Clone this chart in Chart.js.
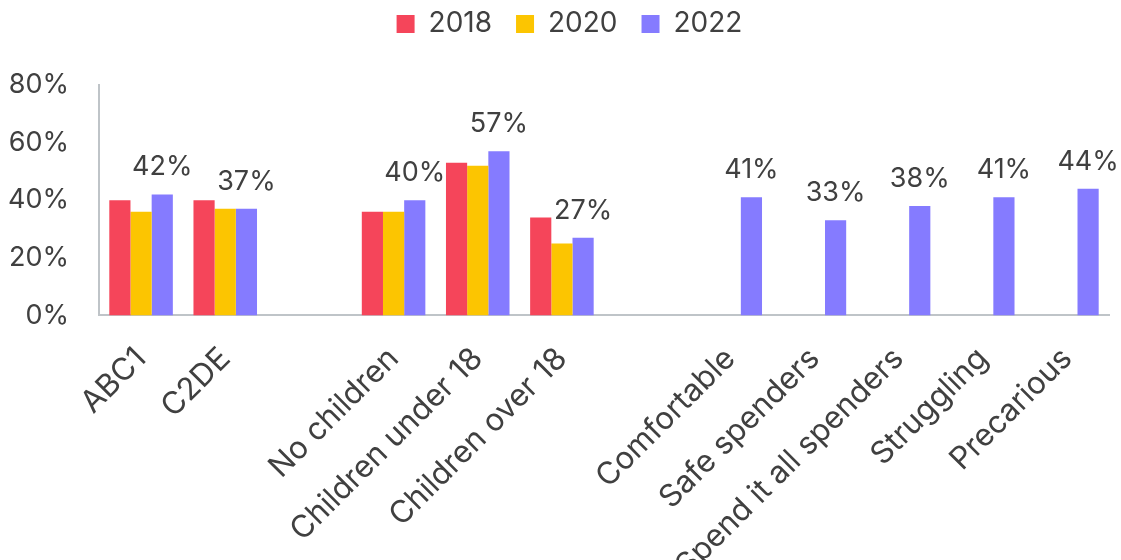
<!DOCTYPE html>
<html>
<head>
<meta charset="utf-8">
<script src="https://cdn.jsdelivr.net/npm/chart.js@4.4.1/dist/chart.umd.min.js"></script>
<style>
  html, body { margin: 0; padding: 0; background: #fff; overflow: hidden; }
  #wrap { width: 1121px; height: 609px; position: relative; }
</style>
</head>
<body>
<div id="wrap"><canvas id="myChart"></canvas></div>
<script>
// empty strings leave a gap between the groups
const categories = ['ABC1', 'C2DE', '', 'No children', 'Children under 18', 'Children over 18', '',
    'Comfortable', 'Safe spenders', 'Spend it all spenders', 'Struggling', 'Precarious'];
const years = ['2018', '2020', '2022'];
const values2018 = [40, 40, null, 36, 53, 34, null, null, null, null, null, null];
const values2020 = [36, 37, null, 36, 52, 25, null, null, null, null, null, null];
const values2022 = [42, 37, null, 40, 57, 27, null, 41, 33, 38, 41, 44];
const yTicks = [0, 20, 40, 60, 80];

const colors = ['#f5455a', '#fcc501', '#857bff'];
const textColor = '#404040';
const fontFamily = 'Inter, "Open Sans", sans-serif';

// percentage labels over the 2022 bars only
const valueLabels = {
    id: 'valueLabels',
    afterDatasetsDraw(chart) {
        const ctx = chart.ctx;
        const meta = chart.getDatasetMeta(2);
        ctx.save();
        ctx.font = '27px ' + fontFamily;
        ctx.fillStyle = textColor;
        ctx.textAlign = 'center';
        ctx.textBaseline = 'alphabetic';
        meta.data.forEach((bar, i) => {
            const v = values2022[i];
            if (v == null) return;
            ctx.fillText(v + '%', bar.x, bar.y - 19);
        });
        ctx.restore();
    }
};

// extra room under the legend, and the legend nudged a little to the right
const legendTweak = {
    id: 'legendTweak',
    beforeInit(chart) {
        const legend = chart.legend;
        const fit = legend.fit;
        const draw = legend.draw;
        legend.fit = function () {
            fit.call(this);
            this.height += 37;
        };
        legend.draw = function () {
            this.ctx.save();
            this.ctx.translate(11, 0);
            draw.call(this);
            this.ctx.restore();
        };
    }
};

const ctx = document.getElementById('myChart').getContext('2d');
new Chart(ctx, {
    type: 'bar',
    data: {
        labels: categories,
        datasets: [values2018, values2020, values2022].map((d, i) => ({
            label: years[i],
            data: d,
            backgroundColor: colors[i],
            categoryPercentage: 0.755,
            barPercentage: 1.0
        }))
    },
    options: {
        responsive: true,
        maintainAspectRatio: false,
        animation: false,
        layout: { padding: { left: 8, right: 12, top: -14, bottom: 0 } },
        plugins: {
            tooltip: { enabled: false },
            legend: {
                position: 'top',
                labels: {
                    boxWidth: 18,
                    boxHeight: 18,
                    padding: 24,
                    color: textColor,
                    font: { family: fontFamily, size: 28 }
                }
            }
        },
        scales: {
            x: {
                grid: { display: false, drawTicks: false },
                border: { color: '#bfc4c8', width: 2 },
                afterFit: s => { s.paddingLeft = 0; s.paddingRight = 0; },
                ticks: {
                    autoSkip: false,
                    maxRotation: 45,
                    minRotation: 45,
                    padding: 25,
                    color: textColor,
                    font: { family: fontFamily, size: 31 }
                }
            },
            y: {
                min: 0,
                max: 80,
                afterBuildTicks: axis => { axis.ticks = yTicks.map(v => ({ value: v })); },
                afterFit: s => { s.width -= 30; },
                grid: { display: false, drawTicks: false },
                border: { color: '#bfc4c8', width: 2 },
                ticks: {
                    padding: 30,
                    color: textColor,
                    font: { family: fontFamily, size: 27 },
                    callback: v => v + '%'
                }
            }
        }
    },
    plugins: [valueLabels, legendTweak]
});
</script>
</body>
</html>
